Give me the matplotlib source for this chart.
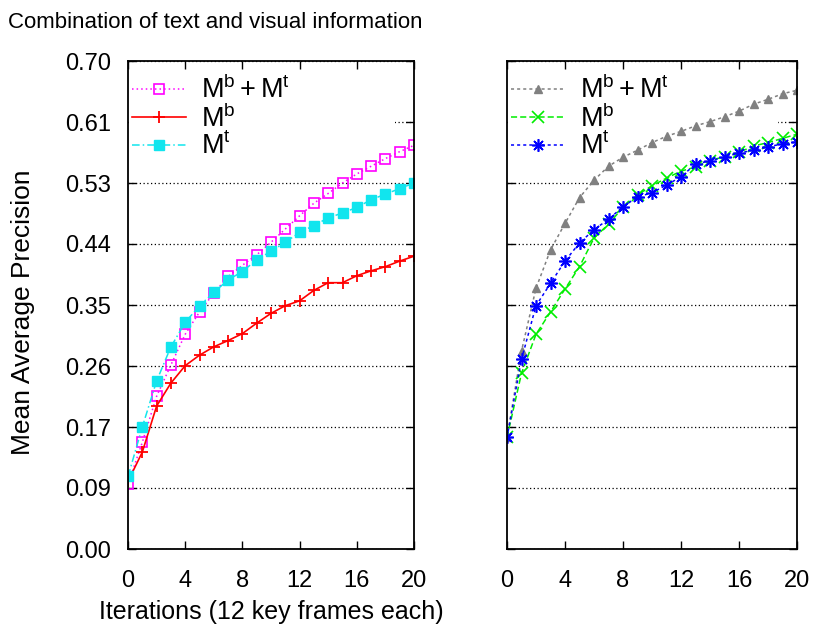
import numpy as np
import matplotlib
matplotlib.use("Agg")
import matplotlib.pyplot as plt

plt.rcParams['font.family'] = ['Liberation Sans', 'DejaVu Sans']
plt.rcParams['mathtext.fontset'] = 'custom'
plt.rcParams['mathtext.rm'] = 'Liberation Sans'
plt.rcParams['mathtext.it'] = 'Liberation Sans'

iterations = np.arange(0, 21)

# Left panel
left_both = [0.093, 0.153, 0.219, 0.264, 0.308, 0.340, 0.367, 0.391, 0.407, 0.422,
             0.440, 0.459, 0.478, 0.496, 0.510, 0.525, 0.538, 0.549, 0.560, 0.570, 0.579]
left_b = [0.097, 0.139, 0.205, 0.238, 0.263, 0.278, 0.290, 0.299, 0.309, 0.324,
          0.338, 0.349, 0.356, 0.371, 0.382, 0.382, 0.392, 0.399, 0.405, 0.413, 0.420]
left_t = [0.104, 0.175, 0.241, 0.290, 0.325, 0.349, 0.368, 0.386, 0.398, 0.415,
          0.427, 0.440, 0.454, 0.464, 0.475, 0.482, 0.490, 0.501, 0.509, 0.517, 0.525]

# Right panel
right_both = [0.160, 0.284, 0.374, 0.429, 0.467, 0.504, 0.529, 0.549, 0.562, 0.572,
              0.583, 0.592, 0.599, 0.607, 0.613, 0.620, 0.628, 0.638, 0.645, 0.653, 0.658]
right_b = [0.160, 0.252, 0.308, 0.340, 0.373, 0.405, 0.446, 0.466, 0.490, 0.508,
           0.521, 0.532, 0.542, 0.548, 0.557, 0.563, 0.569, 0.578, 0.583, 0.589, 0.595]
right_t = [0.160, 0.272, 0.349, 0.381, 0.413, 0.439, 0.458, 0.473, 0.491, 0.505,
           0.511, 0.522, 0.534, 0.552, 0.557, 0.562, 0.568, 0.572, 0.577, 0.581, 0.584]

labels = [r'$\mathregular{M^b + M^t}$', r'$\mathregular{M^b}$', r'$\mathregular{M^t}$']
xticks = [0, 4, 8, 12, 16, 20]
ytick_labels = ['0.00', '0.09', '0.17', '0.26', '0.35', '0.44', '0.53', '0.61', '0.70']
yticks = np.linspace(0, 0.70, len(ytick_labels))

title = 'Combination of text and visual information'
xlabel = 'Iterations (12 key frames each)'
ylabel = 'Mean Average Precision'

fig = plt.figure(figsize=(8.14, 6.26), dpi=100)
axL = fig.add_axes([128/814, 1-549/626, 286/814, 488/626])
axR = fig.add_axes([507/814, 1-549/626, 290/814, 488/626])

axL.plot(iterations, left_both, color='#ff00ff', linestyle=(0, (1, 2)), lw=1.1,
         marker='s', mfc='none', mec='#ff00ff', ms=7, mew=1.2, label=labels[0])
axL.plot(iterations, left_b, color='#ff0000', linestyle='-', lw=1.2,
         marker='+', ms=8, mew=1.3, label=labels[1])
axL.plot(iterations, left_t, color='#11e5ee', linestyle=(0, (5, 2, 1, 2)), lw=1.1,
         marker='s', ms=7, mec='#11e5ee', label=labels[2])

axR.plot(iterations, right_both, color='#808080', linestyle=(0, (2, 2)), lw=1.1,
         marker='^', ms=6, label=labels[0])
axR.plot(iterations, right_b, color='#00ee00', linestyle=(0, (4, 2)), lw=1.1,
         marker='x', ms=8, mew=1.2, label=labels[1])
axR.plot(iterations, right_t, color='#0000ff', linestyle=(0, (2, 2)), lw=1.1,
         marker=(8, 2, 0), ms=9, mew=1.2, label=labels[2])

for ax in (axL, axR):
    ax.set_xlim(0, 20)
    ax.set_ylim(0, 0.70)
    ax.set_xticks(xticks)
    ax.set_xticklabels([str(v) for v in xticks], fontsize=17)
    ax.set_yticks(yticks)
    ax.yaxis.grid(True, color='black', linestyle=(0, (1, 2)), lw=0.9)
    ax.set_axisbelow(True)
    ax.tick_params(axis='both', direction='in', top=True, right=True,
                   length=6, width=1, pad=12)
    ax.tick_params(axis='x', pad=15)
    for s in ax.spines.values():
        s.set_linewidth(1.3)
    leg = ax.legend(loc='upper left', bbox_to_anchor=(0.004, 0.0, 0.93, 0.975),
                    mode='expand', fontsize=19.5, handlelength=2.0,
                    handletextpad=0.55, labelspacing=0.0, borderpad=0.1,
                    borderaxespad=0.0, frameon=True, fancybox=False)
    leg.get_frame().set_facecolor('white')
    leg.get_frame().set_edgecolor('none')
    leg.get_frame().set_alpha(1.0)
    leg.set_zorder(1)

axL.set_yticklabels(ytick_labels, fontsize=17)
axR.set_yticklabels([])

fig.text(8/814, 1-22/626, title, ha='left', va='center', fontsize=16)
fig.text(271/814, 1-612/626, xlabel, ha='center', va='center', fontsize=18)
fig.text(23/814, 1-312/626, ylabel, ha='center', va='center', rotation=90, fontsize=19)

fig.savefig('out.png', dpi=100)
